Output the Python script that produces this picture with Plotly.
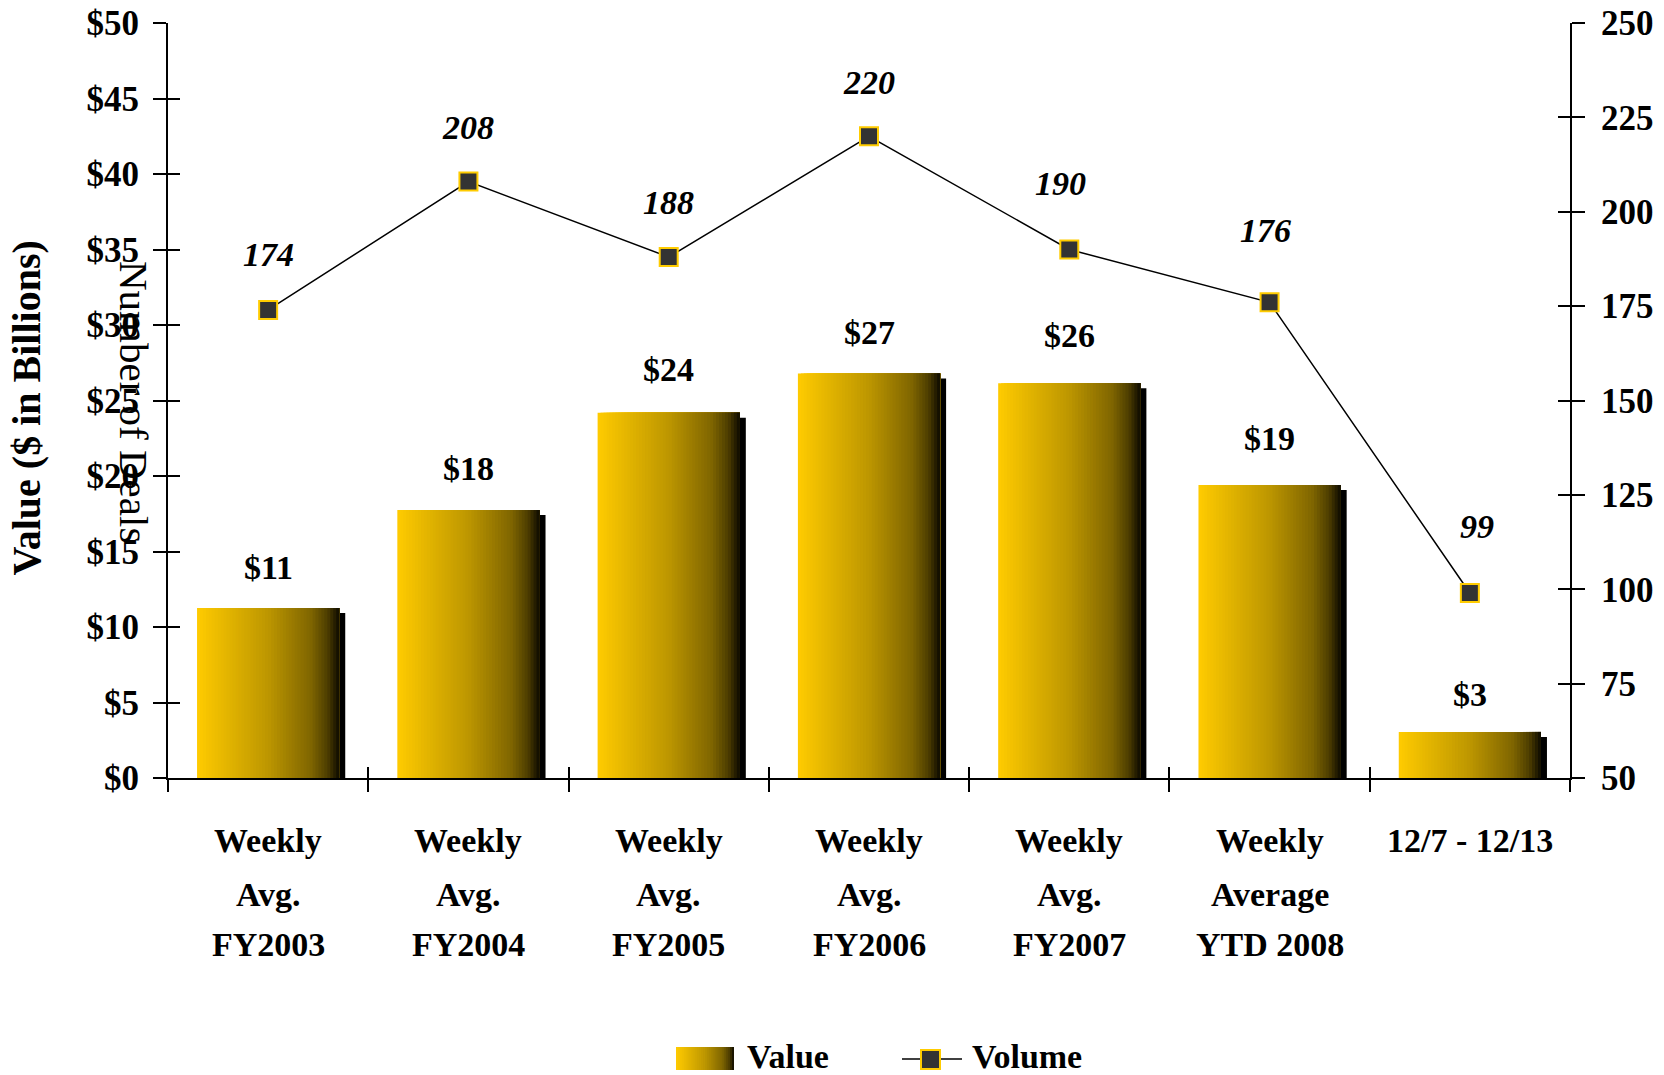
import plotly.graph_objects as go

# ---------------- data ----------------
categories = ["Weekly Avg. FY2003", "Weekly Avg. FY2004", "Weekly Avg. FY2005",
              "Weekly Avg. FY2006", "Weekly Avg. FY2007", "Weekly Average YTD 2008",
              "12/7 - 12/13"]
category_lines = [["Weekly", "Avg.", "FY2003"], ["Weekly", "Avg.", "FY2004"],
                  ["Weekly", "Avg.", "FY2005"], ["Weekly", "Avg.", "FY2006"],
                  ["Weekly", "Avg.", "FY2007"], ["Weekly", "Average", "YTD 2008"],
                  ["12/7 - 12/13"]]
values = [11.26, 17.75, 24.19, 26.79, 26.15, 19.40, 3.05]          # $ billions
value_labels = ["$11", "$18", "$24", "$27", "$26", "$19", "$3"]
volumes = [174, 208, 188, 220, 190, 176, 99]                       # number of deals
value_ticks = [0, 5, 10, 15, 20, 25, 30, 35, 40, 45, 50]
value_ticktext = ["$0", "$5", "$10", "$15", "$20", "$25", "$30", "$35", "$40", "$45", "$50"]
volume_ticks = [50, 75, 100, 125, 150, 175, 200, 225, 250]

# ---------------- style ----------------
W, H = 1664, 1075
L, R, T, B = 168, 1570, 23, 778
FONT = "Liberation Serif"
BAR_W = 0.71
N_SLICES = 48
GOLD = (255, 203, 0)
# brightness stops of the horizontal gradient (position, factor)
GRAD_STOPS = [(0.0, 1.0), (0.5, 0.74), (0.8, 0.5), (0.92, 0.3), (1.0, 0.05)]
bar_label_shift = [40, 41, 43, 41, 48, 47, 37]
vol_label_shift = [55, 54, 55, 54, 66, 72, 67]
vol_label_xshift = [0, 0, 0, 0, -9, -4, 7]
line_centers = [840, 894, 944]


def px2x(px):
    return (px - L) / (R - L)


def py2y(py):
    return (B - py) / (B - T)


def mix(t):
    f = GRAD_STOPS[-1][1]
    for (t0, f0), (t1, f1) in zip(GRAD_STOPS[:-1], GRAD_STOPS[1:]):
        if t0 <= t <= t1:
            f = f0 + (f1 - f0) * (t - t0) / (t1 - t0)
            break
    c = [round(g * f) for g in GOLD]
    return f"rgb({c[0]},{c[1]},{c[2]})"


fig = go.Figure()

# shadow behind bars
units_per_px = 50 / (B - T)
fig.add_trace(go.Bar(
    x=categories, y=[v - 5 * units_per_px for v in values],
    width=BAR_W, offset=-BAR_W / 2 + 6 / ((R - L) / 7),
    marker=dict(color="black", line=dict(width=0)),
    showlegend=False, hoverinfo="skip"))

# gradient bars built from overlapping slices
step = BAR_W / N_SLICES
for k in range(N_SLICES):
    left = -BAR_W / 2 + k * step
    fig.add_trace(go.Bar(
        x=categories, y=values,
        width=BAR_W / 2 - left, offset=left,
        marker=dict(color=mix((k + 0.5) / N_SLICES), line=dict(width=0)),
        name="Value", showlegend=False,
        hoverinfo="skip" if k else "x+y"))

# volume line
fig.add_trace(go.Scatter(
    x=categories, y=volumes, yaxis="y2", mode="lines+markers", name="Volume",
    line=dict(color="black", width=1.5),
    marker=dict(symbol="square", size=18, color="#333333",
                line=dict(color="#FFCC00", width=2)),
    showlegend=False))

# dummy traces to realise the overlay axes used for crossing ticks
fig.add_trace(go.Scatter(x=[categories[0]], y=[None], xaxis="x2", yaxis="y",
                         showlegend=False, hoverinfo="skip"))
fig.add_trace(go.Scatter(x=[categories[0]], y=[None], xaxis="x", yaxis="y3",
                         showlegend=False, hoverinfo="skip"))
fig.add_trace(go.Scatter(x=[categories[0]], y=[None], xaxis="x", yaxis="y4",
                         showlegend=False, hoverinfo="skip"))

bold = dict(family=FONT, size=34, color="black", weight="bold")
tickbold = dict(family=FONT, size=35, color="black", weight="bold")

annotations = []
for c, v, t, s in zip(categories, values, value_labels, bar_label_shift):
    annotations.append(dict(x=c, y=v, xref="x", yref="y", text=t, showarrow=False,
                            yanchor="middle", yshift=s, font=bold))
for c, v, s, xs in zip(categories, volumes, vol_label_shift, vol_label_xshift):
    annotations.append(dict(x=c, y=v, xref="x", yref="y2", text=str(v), showarrow=False,
                            yanchor="middle", yshift=s, xshift=xs,
                            font=dict(bold, style="italic")))
for c, lines in zip(categories, category_lines):
    for ln, py in zip(lines, line_centers):
        annotations.append(dict(x=c, y=py2y(py), xref="x", yref="paper", text=ln,
                                showarrow=False, yanchor="middle", font=bold))
annotations.append(dict(x=px2x(2), y=py2y(408), xref="paper", yref="paper",
                        text="Value ($ in Billions)", textangle=-90, showarrow=False,
                        font=dict(family=FONT, size=40, color="black", weight="bold")))
annotations.append(dict(x=px2x(109), y=py2y(402), xref="paper", yref="paper",
                        text="Number of Deals", textangle=90, showarrow=False,
                        font=dict(family=FONT, size=41, color="black")))
# legend texts
annotations.append(dict(x=px2x(745), y=py2y(1056), xref="paper", yref="paper",
                        text="Value", showarrow=False, xanchor="left", yanchor="middle",
                        font=bold))
annotations.append(dict(x=px2x(970), y=py2y(1056), xref="paper", yref="paper",
                        text="Volume", showarrow=False, xanchor="left", yanchor="middle",
                        font=bold))

shapes = []
# legend gradient swatch
sw_l, sw_r, sw_t, sw_b = 676, 734, 1047, 1070
ns = 30
for k in range(ns):
    x0 = sw_l + (sw_r - sw_l) * k / ns
    shapes.append(dict(type="rect", xref="paper", yref="paper",
                       x0=px2x(x0), x1=px2x(sw_r), y0=py2y(sw_b), y1=py2y(sw_t),
                       fillcolor=mix((k + 0.5) / ns), line=dict(width=0)))
# legend line + marker for Volume
shapes.append(dict(type="line", xref="paper", yref="paper",
                   x0=px2x(902), x1=px2x(962), y0=py2y(1059), y1=py2y(1059),
                   line=dict(color="black", width=1.5)))
shapes.append(dict(type="rect", xref="paper", yref="paper",
                   x0=px2x(921), x1=px2x(940), y0=py2y(1069), y1=py2y(1050),
                   fillcolor="#333333", line=dict(color="#FFCC00", width=2)))

common_x = dict(type="category", categoryorder="array", categoryarray=categories,
                range=[-0.5, len(categories) - 0.5], tickson="boundaries",
                tickwidth=2, tickcolor="black", showgrid=False, zeroline=False,
                showticklabels=False, automargin=False)
common_y = dict(showgrid=False, zeroline=False, automargin=False, tickwidth=2,
                tickcolor="black", anchor="x")
fig.update_layout(
    template="none",
    width=W, height=H,
    margin=dict(l=L, r=W - R, t=T, b=H - B, autoexpand=False),
    paper_bgcolor="white", plot_bgcolor="white",
    barmode="overlay", showlegend=False,
    font=dict(family=FONT, color="black"),
    xaxis=dict(common_x, ticks="outside", ticklen=12, showline=True,
               linecolor="black", linewidth=2, anchor="y"),
    xaxis2=dict(common_x, ticks="inside", ticklen=11, overlaying="x", anchor="y"),
    yaxis=dict(common_y, range=[0, 50], tickvals=value_ticks, ticktext=value_ticktext,
               ticks="outside", ticklen=13, showline=True, linecolor="black",
               linewidth=2, tickfont=tickbold, ticklabelstandoff=7),
    yaxis3=dict(common_y, range=[0, 50], tickvals=value_ticks, ticks="inside",
                ticklen=12, showticklabels=False, overlaying="y", side="left"),
    yaxis2=dict(common_y, range=[50, 250], tickvals=volume_ticks, ticks="outside",
                ticklen=13, showline=True, linecolor="black", linewidth=2,
                tickfont=tickbold, ticklabelstandoff=9, overlaying="y", side="right"),
    yaxis4=dict(common_y, range=[50, 250], tickvals=volume_ticks, ticks="inside",
                ticklen=12, showticklabels=False, overlaying="y", side="right"),
    annotations=annotations, shapes=shapes,
)

fig.write_html("out.html", config={"displayModeBar": False},
               post_script="document.body.style.margin='0';document.body.style.overflow='hidden';")
